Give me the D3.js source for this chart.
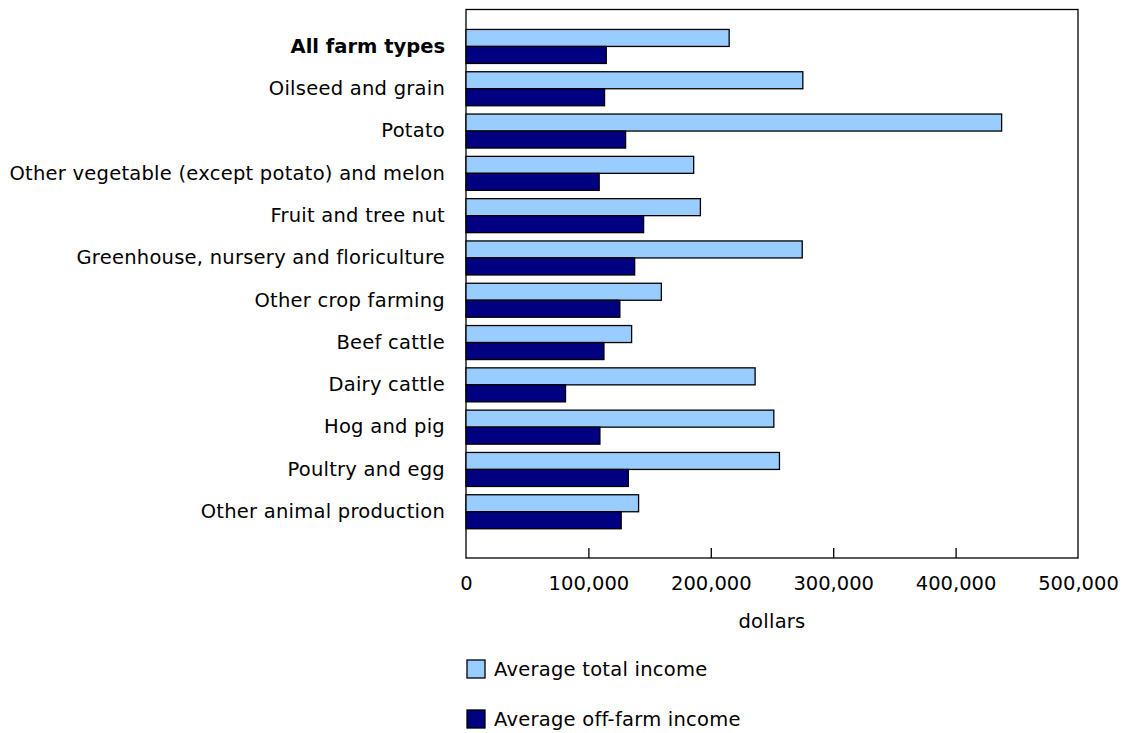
<!DOCTYPE html>
<html><head><meta charset="utf-8">
<script src="https://cdn.jsdelivr.net/npm/d3@7"></script>
<style>body{margin:0;background:#fff}svg{display:block;font-family:"DejaVu Sans",Verdana,sans-serif}</style>
</head><body>
<svg id="chart" width="1123" height="733"></svg>
<script>
const categories = ["All farm types","Oilseed and grain","Potato","Other vegetable (except potato) and melon","Fruit and tree nut","Greenhouse, nursery and floriculture","Other crop farming","Beef cattle","Dairy cattle","Hog and pig","Poultry and egg","Other animal production"];
const totalIncome = [215000,275200,437600,186000,191500,274700,159600,135300,236200,251500,256100,141000];
const offFarmIncome = [114600,113200,130400,108800,145100,137800,125700,112700,81300,109400,132600,126800];
const seriesNames = ["Average total income","Average off-farm income"];
const seriesColors = ["#99ccff","#000080"];
const xTicks = [0,100000,200000,300000,400000,500000];

const FS = 19.5, LS = 0.25;
const svg = d3.select("#chart");
const L = 466, R = 1078, T = 9.5, B = 558;
const x = d3.scaleLinear().domain([0,500000]).range([L,R]);
const y = d3.scaleBand().domain(categories).range([25.3,532.9]).paddingInner(0.196).paddingOuter(0.098);
const ys = d3.scaleBand().domain([0,1]).range([0,y.bandwidth()]);
const fmt = d3.format(",");

// frame
svg.append("rect").attr("x",L).attr("y",T).attr("width",R-L).attr("height",B-T)
  .attr("fill","none").attr("stroke","#000").attr("stroke-width",1.3);

const data = categories.map((c,i)=>({c, v:[totalIncome[i], offFarmIncome[i]]}));
const g = svg.append("g");
data.forEach(d=>{
  d.v.forEach((v,k)=>{
    g.append("rect").attr("x",x(0)).attr("y",y(d.c)+ys(k))
      .attr("width",x(v)-x(0)).attr("height",ys.bandwidth())
      .attr("fill",seriesColors[k]).attr("stroke","#000").attr("stroke-width",1.3);
  });
});

// x axis
const xa = svg.append("g").attr("transform",`translate(0,${B})`)
  .call(d3.axisBottom(x).tickValues(xTicks).tickFormat(fmt).tickSizeInner(-10).tickSizeOuter(0).tickPadding(18));
xa.select(".domain").remove();
xa.selectAll("line").attr("stroke","#000").attr("stroke-width",1.3);
xa.selectAll("text").attr("font-size",FS).attr("fill","#000").attr("font-family","DejaVu Sans, Verdana, sans-serif");
xa.selectAll(".tick").filter(d=>d===0||d===500000).select("line").remove();

svg.append("text").attr("x",772).attr("y",628).attr("text-anchor","middle")
  .attr("font-size",FS).attr("letter-spacing",LS).text("dollars");

// y labels
const ya = svg.append("g").attr("transform",`translate(${L},0)`)
  .call(d3.axisLeft(y).tickSize(0).tickPadding(21));
ya.select(".domain").remove();
ya.selectAll("text").attr("font-size",FS).attr("fill","#000").attr("font-family","DejaVu Sans, Verdana, sans-serif")
  .attr("letter-spacing",d=>d==="All farm types"?0:LS)
  .attr("font-weight",d=>d==="All farm types"?"bold":"normal");

// legend
const lg = svg.append("g");
seriesNames.forEach((n,k)=>{
  const yy = 660 + k*50;
  lg.append("rect").attr("x",467).attr("y",yy).attr("width",18).attr("height",18)
    .attr("fill",seriesColors[k]).attr("stroke","#000").attr("stroke-width",1.3);
  lg.append("text").attr("x",494).attr("y",yy+16).attr("font-size",FS).attr("letter-spacing",LS).text(n);
});
</script>
</body></html>
